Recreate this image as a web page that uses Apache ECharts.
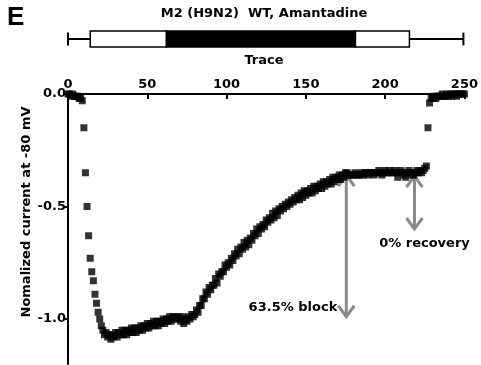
<!DOCTYPE html>
<html><head><meta charset="utf-8">
<script src="https://cdn.jsdelivr.net/npm/echarts@6/dist/echarts.min.js"></script>
<style>html,body{margin:0;padding:0;background:#fff}#c{width:481px;height:365px}</style>
</head><body><div id="c"></div>
<script>
// Normalized current, one sample per trace index (0..250)
const current = [
 0.00,0.00,-0.01,0.00,-0.01,-0.01,-0.01,-0.02,-0.02,-0.03,
 -0.15,-0.35,-0.50,-0.63,-0.73,-0.79,-0.83,-0.89,-0.93,-0.97,
 -1.00,-1.03,-1.05,-1.07,-1.06,-1.08,-1.07,-1.09,-1.07,-1.08,
 -1.06,-1.08,-1.06,-1.07,-1.05,-1.07,-1.05,-1.07,-1.05,-1.06,
 -1.04,-1.06,-1.04,-1.06,-1.04,-1.05,-1.03,-1.05,-1.03,-1.04,
 -1.02,-1.04,-1.02,-1.03,-1.01,-1.03,-1.01,-1.03,-1.01,-1.02,
 -1.00,-1.02,-1.00,-1.01,-0.99,-1.01,-0.99,-1.00,-0.99,-1.00,
 -0.99,-1.01,-0.99,-1.02,-1.00,-1.01,-0.99,-1.00,-0.98,-0.99,
 -0.98,-0.96,-0.97,-0.94,-0.94,-0.91,-0.91,-0.88,-0.89,-0.86,
 -0.87,-0.85,-0.85,-0.82,-0.84,-0.80,-0.81,-0.79,-0.79,-0.76,
 -0.77,-0.75,-0.76,-0.73,-0.74,-0.71,-0.72,-0.69,-0.71,-0.68,
 -0.69,-0.66,-0.68,-0.65,-0.67,-0.64,-0.65,-0.62,-0.63,-0.60,
 -0.62,-0.59,-0.60,-0.58,-0.59,-0.56,-0.57,-0.55,-0.56,-0.53,
 -0.55,-0.52,-0.54,-0.51,-0.52,-0.50,-0.51,-0.49,-0.50,-0.48,
 -0.49,-0.47,-0.48,-0.46,-0.47,-0.45,-0.47,-0.44,-0.46,-0.43,
 -0.45,-0.43,-0.44,-0.42,-0.44,-0.41,-0.43,-0.41,-0.42,-0.40,
 -0.42,-0.39,-0.41,-0.39,-0.40,-0.38,-0.40,-0.37,-0.39,-0.37,
 -0.38,-0.36,-0.38,-0.36,-0.37,-0.35,-0.35,-0.36,-0.36,-0.36,
 -0.36,-0.35,-0.36,-0.36,-0.36,-0.35,-0.36,-0.35,-0.35,-0.36,
 -0.35,-0.35,-0.35,-0.36,-0.35,-0.35,-0.34,-0.35,-0.36,-0.35,
 -0.34,-0.35,-0.35,-0.34,-0.35,-0.35,-0.34,-0.35,-0.37,-0.35,
 -0.34,-0.35,-0.36,-0.37,-0.35,-0.34,-0.35,-0.36,-0.36,-0.35,
 -0.34,-0.35,-0.34,-0.35,-0.34,-0.33,-0.32,-0.15,-0.04,-0.02,
 -0.02,-0.01,-0.02,-0.01,-0.01,-0.01,0.00,-0.01,-0.01,0.00,
 -0.01,0.00,-0.01,0.00,0.00,-0.01,0.00,0.00,0.00,0.00,
 0.00
];
const xTicks = [0, 50, 100, 150, 200, 250];
const yTicks = [0, -0.5, -1.0];
// Protocol bar: boundaries of the wash / drug / wash phases, and whisker extent
const phaseBounds = [14, 62, 181, 215];
const phaseIsDrug = [false, true, false];
const traceExtent = [0, 249];
// Annotation arrows: [x, top value, bottom value]
const arrows = [[175.5, -0.36, -0.99], [218.5, -0.365, -0.60]];
const arrowLabels = ['63.5% block', '0% recovery'];

const FONT = 'DejaVu Sans, sans-serif';
const points = current.map((v, i) => [i, v]);
const phases = phaseIsDrug.map((d, i) => [phaseBounds[i], phaseBounds[i + 1], d ? 1 : 0]);
const whiskers = [[traceExtent[0], phaseBounds[0], 0], [phaseBounds[phaseBounds.length - 1], traceExtent[1], 1]];

const chart = echarts.init(document.getElementById('c'), null, {renderer: 'canvas'});
chart.setOption({
  animation: false,
  backgroundColor: '#fff',
  grid: [
    {left: 68, right: 16, top: 94, bottom: 1},
    {left: 68, right: 16, top: 31, height: 16}
  ],
  xAxis: [{
    gridIndex: 0, type: 'value', position: 'top', min: 0, max: 250, interval: 50,
    axisLine: {onZero: false, lineStyle: {color: '#000', width: 2}},
    axisTick: {inside: true, length: 5, lineStyle: {color: '#000', width: 2}},
    axisLabel: {color: '#000', fontFamily: FONT, fontWeight: 'bold', fontSize: 13, margin: 3},
    splitLine: {show: false}
  }, {
    gridIndex: 1, type: 'value', min: 0, max: 250, show: false
  }],
  yAxis: [{
    gridIndex: 0, type: 'value', min: -1.2, max: 0,
    axisLine: {show: true, lineStyle: {color: '#000', width: 2}},
    axisTick: {show: true, length: 4, customValues: yTicks, lineStyle: {color: '#000', width: 2}},
    axisLabel: {customValues: yTicks, color: '#000', fontFamily: FONT, fontWeight: 'bold', fontSize: 13, margin: 2,
      formatter: v => v.toFixed(1)},
    splitLine: {show: false}
  }, {
    gridIndex: 1, type: 'value', min: 0, max: 1, show: false
  }],
  graphic: [
    {type: 'text', left: 7, top: 5, style: {text: 'E', font: 'bold 26px Liberation Sans, Arial, sans-serif', fill: '#000'}},
    {type: 'text', x: 264, y: 14, style: {text: 'M2 (H9N2)  WT, Amantadine', font: 'bold 13px ' + FONT, fill: '#000', align: 'center', verticalAlign: 'middle'}},
    {type: 'text', x: 264, y: 61, style: {text: 'Trace', font: 'bold 13px ' + FONT, fill: '#000', align: 'center', verticalAlign: 'middle'}},
    {type: 'text', x: 27, y: 212, rotation: Math.PI / 2, style: {text: 'Nomalized current at -80 mV', font: 'bold 13px ' + FONT, fill: '#000', align: 'center', verticalAlign: 'middle'}}
  ],
  series: [
    {
      type: 'scatter', xAxisIndex: 0, yAxisIndex: 0, data: points,
      symbol: 'rect', symbolSize: 7, itemStyle: {color: '#000'}, silent: true
    },
    {
      type: 'custom', xAxisIndex: 0, yAxisIndex: 0, data: arrows, silent: true,
      renderItem: (params, api) => {
        const x = api.value(0);
        const p1 = api.coord([x, api.value(1)]);
        const p2 = api.coord([x, api.value(2)]);
        const st = {stroke: '#8a8a8a', lineWidth: 3, fill: null};
        const hw = 8, hh = 11;
        const label = arrowLabels[params.dataIndex];
        const txt = params.dataIndex === 0
          ? {type: 'text', x: p2[0] - 9, y: p2[1] - 9, style: {text: label, font: 'bold 13px ' + FONT, fill: '#000', align: 'right', verticalAlign: 'middle'}}
          : {type: 'text', x: p2[0] + 10, y: p2[1] + 15, style: {text: label, font: 'bold 13px ' + FONT, fill: '#000', align: 'center', verticalAlign: 'middle'}};
        return {type: 'group', children: [
          {type: 'line', shape: {x1: p1[0], y1: p1[1] + 1, x2: p2[0], y2: p2[1] - 1}, style: st},
          {type: 'polyline', shape: {points: [[p1[0] - hw, p1[1] + hh], [p1[0], p1[1]], [p1[0] + hw, p1[1] + hh]]}, style: st},
          {type: 'polyline', shape: {points: [[p2[0] - hw, p2[1] - hh], [p2[0], p2[1]], [p2[0] + hw, p2[1] - hh]]}, style: st},
          txt
        ]};
      }
    },
    {
      type: 'custom', xAxisIndex: 1, yAxisIndex: 1, data: whiskers, silent: true,
      renderItem: (params, api) => {
        const a = api.coord([api.value(0), 0.5]);
        const b = api.coord([api.value(1), 0.5]);
        const capX = api.value(2) === 0 ? a[0] : b[0];
        const top = api.coord([0, 0.9])[1], bot = api.coord([0, 0.1])[1];
        const st = {stroke: '#000', lineWidth: 2};
        return {type: 'group', children: [
          {type: 'line', shape: {x1: a[0], y1: a[1], x2: b[0], y2: b[1]}, style: st},
          {type: 'line', shape: {x1: capX, y1: top, x2: capX, y2: bot}, style: st}
        ]};
      }
    },
    {
      type: 'custom', xAxisIndex: 1, yAxisIndex: 1, data: phases, silent: true,
      renderItem: (params, api) => {
        const a = api.coord([api.value(0), 1]);
        const b = api.coord([api.value(1), 0]);
        return {type: 'rect', shape: {x: a[0], y: a[1], width: b[0] - a[0], height: b[1] - a[1]},
          style: {fill: api.value(2) ? '#000' : '#fff', stroke: '#000', lineWidth: 1.5}};
      }
    }
  ]
});
</script>
</body></html>
